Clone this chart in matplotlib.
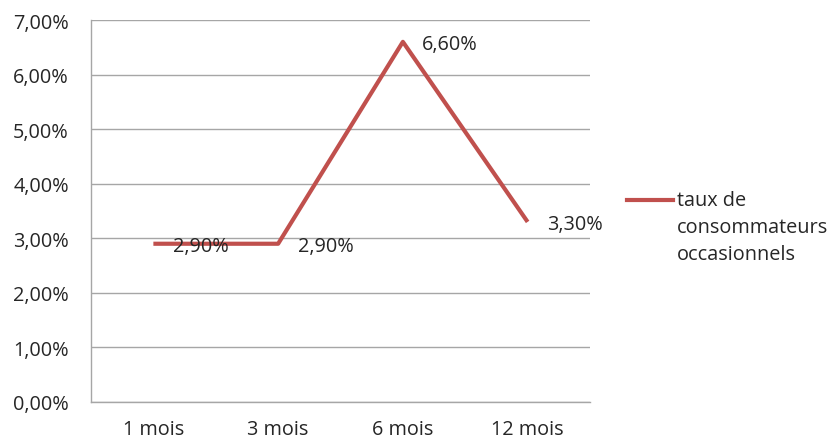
import matplotlib
matplotlib.use("Agg")
import matplotlib.pyplot as plt
from matplotlib.ticker import FuncFormatter

categories = ["1 mois", "3 mois", "6 mois", "12 mois"]
taux = [2.90, 2.90, 6.60, 3.30]
label_series = "taux de\nconsommateurs\noccasionnels"
y_ticks = [0, 1, 2, 3, 4, 5, 6, 7]

plt.rcParams["font.family"] = ["Open Sans", "DejaVu Sans"]
line_color = "#C0504D"
grid_color = "#A6A6A6"
text_color = "#262626"
fs = 14.3

fig = plt.figure(figsize=(8.38, 4.39), dpi=100)
ax = fig.add_axes([91 / 838, 1 - 403 / 439, (590 - 91) / 838, (403 - 21) / 439])

x = list(range(len(categories)))
ax.plot(x, taux, color=line_color, lw=3.0, solid_capstyle="butt", zorder=3)

for xi, v in zip(x, taux):
    ax.annotate(f"{v:.2f}%".replace(".", ","), (xi, v), xytext=(14, -1.5),
                textcoords="offset points", ha="left", va="center",
                fontsize=fs, color=text_color, zorder=4)

ax.set_xlim(-0.5, len(categories) - 0.5)
ax.set_ylim(0, 7)
ax.set_yticks(y_ticks)
ax.yaxis.set_major_formatter(FuncFormatter(lambda v, p: f"{v:.2f}%".replace(".", ",")))
ax.set_xticks(x)
ax.set_xticklabels(categories)

ax.grid(axis="y", color=grid_color, lw=1.0, zorder=0)
for s in ["top", "right"]:
    ax.spines[s].set_visible(False)
for s in ["left", "bottom"]:
    ax.spines[s].set_color(grid_color)
    ax.spines[s].set_linewidth(1.0)
ax.tick_params(axis="both", length=0, labelsize=fs, colors=text_color)
ax.tick_params(axis="y", pad=16)
ax.tick_params(axis="x", pad=12)

# legend
fig.lines.append(plt.Line2D([627 / 838, 673 / 838], [1 - 201 / 439, 1 - 201 / 439],
                            color=line_color, lw=3.0, transform=fig.transFigure))
fig.text(677 / 838, 1 - 191 / 439, label_series, ha="left", va="top",
         fontsize=fs, color=text_color, linespacing=1.47)

fig.savefig("out.png", dpi=100, facecolor="white")
